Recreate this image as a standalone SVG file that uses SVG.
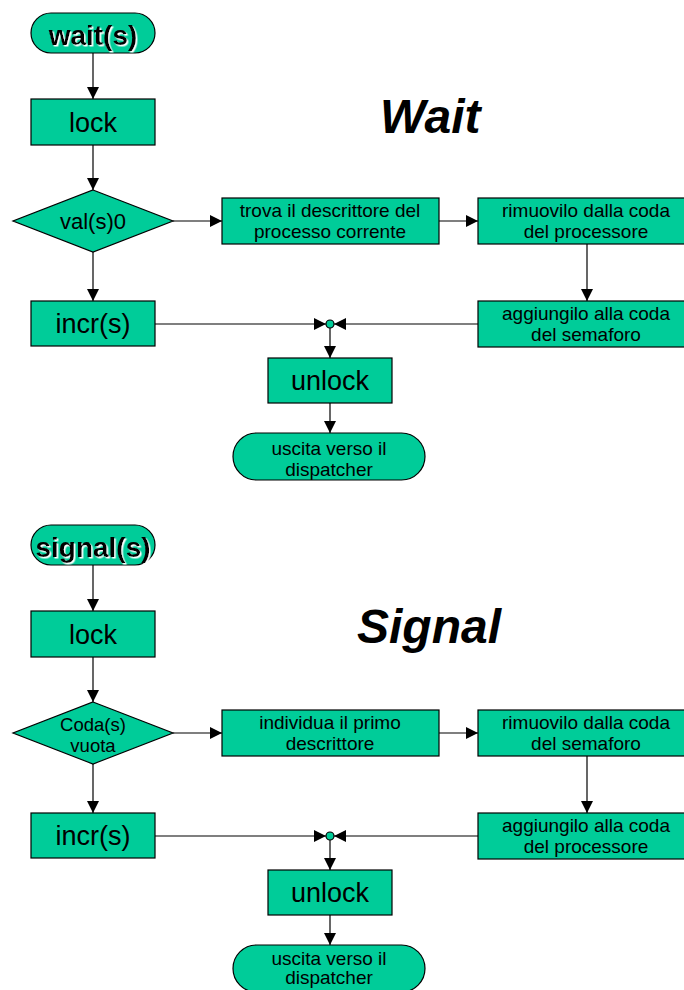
<svg xmlns="http://www.w3.org/2000/svg" width="684" height="990" viewBox="0 0 684 990">
  <defs>
    <marker id="arrow" markerUnits="userSpaceOnUse" markerWidth="12" markerHeight="12" viewBox="0 0 12 12" refX="12" refY="6" orient="auto">
      <path d="M0,0 L12,6 L0,12 Z" fill="#000"/>
    </marker>
    <filter id="glow" x="-10%" y="-10%" width="130%" height="130%">
      <feDropShadow dx="1.5" dy="1.5" stdDeviation="0" flood-color="#ffffff"/>
    </filter>
  </defs>
  <style>
    .shape { fill: #00CC99; stroke: #000; stroke-width: 1.2; }
    .conn { stroke: #000; stroke-width: 1.2; fill: none; }
    .arr { marker-end: url(#arrow); }
    text { font-family: "Liberation Sans", Arial, sans-serif; fill: #000; text-anchor: middle; }
    .big { font-size: 27px; }
    .small { font-size: 19px; }
    .start { font-size: 28px; font-weight: bold; filter: url(#glow); }
    .title { font-size: 48px; font-weight: bold; font-style: italic; text-anchor: start; }
  </style>
  <rect width="684" height="990" fill="#fff"/>

  <!-- ===== WAIT ===== -->
  <text class="title" x="380" y="133">Wait</text>

  <g id="w-connectors">
    <line class="conn arr" x1="93" y1="53" x2="93" y2="99"/>
    <line class="conn arr" x1="93" y1="145" x2="93" y2="190"/>
    <line class="conn arr" x1="173" y1="221" x2="222" y2="221"/>
    <line class="conn arr" x1="439" y1="221" x2="478" y2="221"/>
    <line class="conn arr" x1="587" y1="244" x2="587" y2="301"/>
    <line class="conn arr" x1="478" y1="324" x2="334" y2="324"/>
    <line class="conn arr" x1="93" y1="252" x2="93" y2="301"/>
    <line class="conn arr" x1="155" y1="324" x2="326" y2="324"/>
    <line class="conn arr" x1="330" y1="328" x2="330" y2="358"/>
    <line class="conn arr" x1="330" y1="403" x2="330" y2="433"/>
  </g>

  <g id="w-start">
    <rect class="shape" x="31" y="13" width="124" height="40" rx="20"/>
    <text class="start" x="93" y="45">wait(s)</text>
  </g>
  <g id="w-lock">
    <rect class="shape" x="31" y="99" width="124" height="46"/>
    <text class="big" x="93" y="132">lock</text>
  </g>
  <g id="w-test">
    <polygon class="shape" points="93,190 173,221 93,252 13,221"/>
    <text x="93" y="229" font-size="22">val(s)0</text>
  </g>
  <g id="w-find">
    <rect class="shape" x="222" y="198" width="217" height="46"/>
    <text class="small" x="330" y="217">trova il descrittore del</text>
    <text class="small" x="330" y="238">processo corrente</text>
  </g>
  <g id="w-remove">
    <rect class="shape" x="478" y="198" width="210" height="46"/>
    <text class="small" x="586" y="217">rimuovilo dalla coda</text>
    <text class="small" x="586" y="238">del processore</text>
  </g>
  <g id="w-add">
    <rect class="shape" x="478" y="301" width="210" height="46"/>
    <text class="small" x="586" y="320">aggiungilo alla coda</text>
    <text class="small" x="586" y="341">del semaforo</text>
  </g>
  <g id="w-incr">
    <rect class="shape" x="31" y="301" width="124" height="45"/>
    <text class="big" x="93" y="333">incr(s)</text>
  </g>
  <g id="w-join">
    <circle class="shape" cx="330" cy="324" r="4"/>
  </g>
  <g id="w-unlock">
    <rect class="shape" x="268" y="358" width="124" height="45"/>
    <text class="big" x="330" y="390">unlock</text>
  </g>
  <g id="w-exit">
    <rect class="shape" x="233" y="433" width="192" height="47" rx="23.5"/>
    <text class="small" x="329" y="455">uscita verso il</text>
    <text class="small" x="329" y="476">dispatcher</text>
  </g>

  <!-- ===== SIGNAL ===== -->
  <text class="title" x="357" y="643">Signal</text>

  <g id="s-connectors">
    <line class="conn arr" x1="93" y1="565" x2="93" y2="611"/>
    <line class="conn arr" x1="93" y1="657" x2="93" y2="702"/>
    <line class="conn arr" x1="173" y1="733" x2="222" y2="733"/>
    <line class="conn arr" x1="439" y1="733" x2="478" y2="733"/>
    <line class="conn arr" x1="587" y1="756" x2="587" y2="813"/>
    <line class="conn arr" x1="478" y1="836" x2="334" y2="836"/>
    <line class="conn arr" x1="93" y1="764" x2="93" y2="813"/>
    <line class="conn arr" x1="155" y1="836" x2="326" y2="836"/>
    <line class="conn arr" x1="330" y1="840" x2="330" y2="870"/>
    <line class="conn arr" x1="330" y1="915" x2="330" y2="945"/>
  </g>

  <g id="s-start">
    <rect class="shape" x="31" y="525" width="124" height="40" rx="20"/>
    <text class="start" x="93" y="557">signal(s)</text>
  </g>
  <g id="s-lock">
    <rect class="shape" x="31" y="611" width="124" height="46"/>
    <text class="big" x="93" y="644">lock</text>
  </g>
  <g id="s-test">
    <polygon class="shape" points="93,702 173,733 93,764 13,733"/>
    <text x="93" y="731" font-size="18.5">Coda(s)</text>
    <text x="93" y="752" font-size="18.5">vuota</text>
  </g>
  <g id="s-find">
    <rect class="shape" x="222" y="710" width="217" height="46"/>
    <text class="small" x="330" y="729">individua il primo</text>
    <text class="small" x="330" y="750">descrittore</text>
  </g>
  <g id="s-remove">
    <rect class="shape" x="478" y="710" width="210" height="46"/>
    <text class="small" x="586" y="729">rimuovilo dalla coda</text>
    <text class="small" x="586" y="750">del semaforo</text>
  </g>
  <g id="s-add">
    <rect class="shape" x="478" y="813" width="210" height="46"/>
    <text class="small" x="586" y="832">aggiungilo alla coda</text>
    <text class="small" x="586" y="853">del processore</text>
  </g>
  <g id="s-incr">
    <rect class="shape" x="31" y="813" width="124" height="45"/>
    <text class="big" x="93" y="845">incr(s)</text>
  </g>
  <g id="s-join">
    <circle class="shape" cx="330" cy="836" r="4"/>
  </g>
  <g id="s-unlock">
    <rect class="shape" x="268" y="870" width="124" height="45"/>
    <text class="big" x="330" y="902">unlock</text>
  </g>
  <g id="s-exit">
    <rect class="shape" x="233" y="945" width="192" height="47" rx="23.5"/>
    <text class="small" x="329" y="965">uscita verso il</text>
    <text class="small" x="329" y="984">dispatcher</text>
  </g>
</svg>
